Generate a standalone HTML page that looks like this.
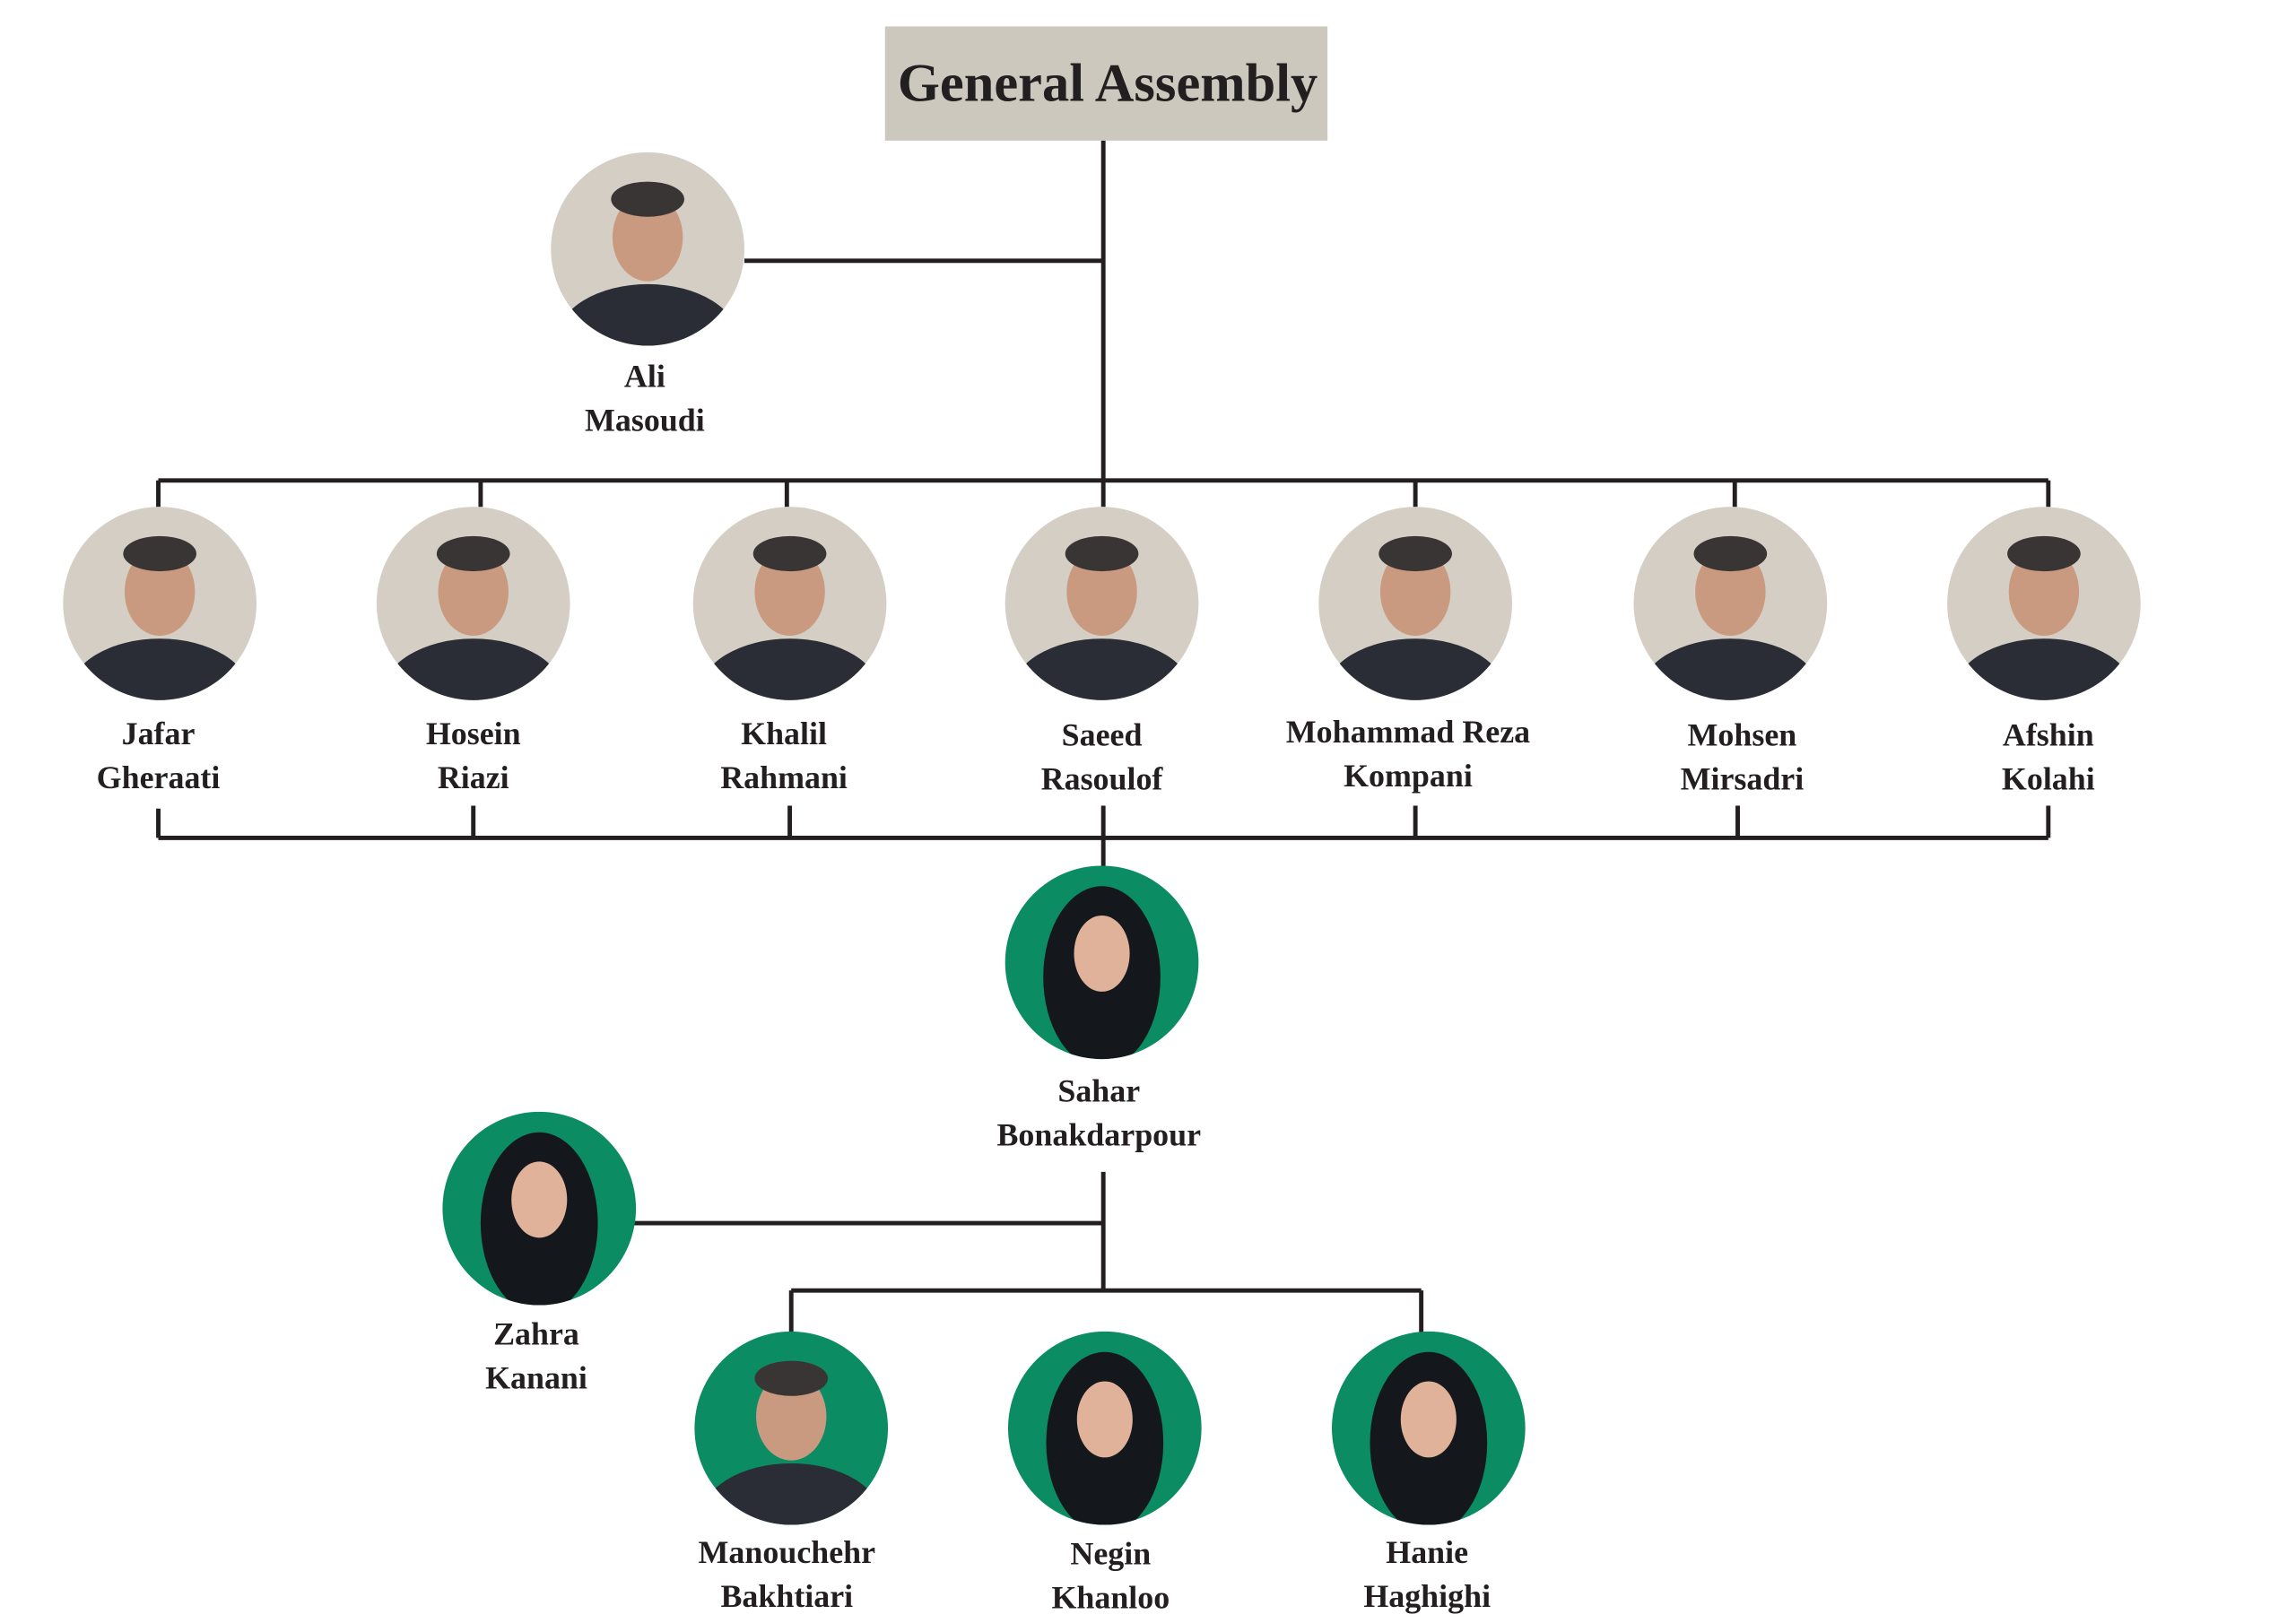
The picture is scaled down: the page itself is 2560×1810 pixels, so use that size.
<!DOCTYPE html>
<html><head><meta charset="utf-8"><style>
html,body{margin:0;padding:0;background:#fff;}
svg{display:block;}
text{font-family:"Liberation Serif",serif;font-weight:bold;fill:#231f20;text-anchor:middle;}
</style></head><body>
<svg width="2560" height="1810" viewBox="0 0 1567 1108" xmlns="http://www.w3.org/2000/svg">
<defs>
<g id="p">
  <ellipse cx="0" cy="62" rx="62" ry="38" fill="#2a2d35"/>
  <ellipse cx="0" cy="-8" rx="24" ry="30" fill="#c99a80"/>
  <ellipse cx="0" cy="-34" rx="25" ry="12" fill="#3a3535"/>
</g>
<g id="f">
  <ellipse cx="0" cy="10" rx="40" ry="62" fill="#14181c"/>
  <ellipse cx="0" cy="-6" rx="19" ry="26" fill="#e0b29a"/>
</g>
<clipPath id="c"><circle cx="0" cy="0" r="66"/></clipPath>
</defs>
<rect x="604" y="18" width="302" height="78" fill="#cdc8be"/>
<text x="756" y="69" font-size="37">General Assembly</text>
<g stroke="#231f20" stroke-width="3" fill="none">
<path d="M753 96V328M508 178H753"/>
<path d="M108 328H1398M108 328V346M328 328V346M537 328V346M753 328V346M966 328V346M1184 328V346M1398 328V346"/>
<path d="M108 572H1398M108 572V552M323 572V550M539 572V550M753 550V592M966 572V550M1186 572V550M1398 572V550"/>
<path d="M753 800V881M432 835H753M540 881H970M540 881V910M970 881V910"/>
</g>
<g transform="translate(442,170)"><circle r="66" fill="#d4cec4"/><g clip-path="url(#c)"><use href="#p"/></g></g>
<g transform="translate(109,412)"><circle r="66" fill="#d4cec4"/><g clip-path="url(#c)"><use href="#p"/></g></g>
<g transform="translate(323,412)"><circle r="66" fill="#d4cec4"/><g clip-path="url(#c)"><use href="#p"/></g></g>
<g transform="translate(539,412)"><circle r="66" fill="#d4cec4"/><g clip-path="url(#c)"><use href="#p"/></g></g>
<g transform="translate(752,412)"><circle r="66" fill="#d4cec4"/><g clip-path="url(#c)"><use href="#p"/></g></g>
<g transform="translate(966,412)"><circle r="66" fill="#d4cec4"/><g clip-path="url(#c)"><use href="#p"/></g></g>
<g transform="translate(1181,412)"><circle r="66" fill="#d4cec4"/><g clip-path="url(#c)"><use href="#p"/></g></g>
<g transform="translate(1395,412)"><circle r="66" fill="#d4cec4"/><g clip-path="url(#c)"><use href="#p"/></g></g>
<g transform="translate(752,657)"><circle r="66" fill="#0b8c62"/><g clip-path="url(#c)"><use href="#f"/></g></g>
<g transform="translate(368,825)"><circle r="66" fill="#0b8c62"/><g clip-path="url(#c)"><use href="#f"/></g></g>
<g transform="translate(540,975)"><circle r="66" fill="#0b8c62"/><g clip-path="url(#c)"><use href="#p"/></g></g>
<g transform="translate(754,975)"><circle r="66" fill="#0b8c62"/><g clip-path="url(#c)"><use href="#f"/></g></g>
<g transform="translate(975,975)"><circle r="66" fill="#0b8c62"/><g clip-path="url(#c)"><use href="#f"/></g></g>
<g font-size="22">
<text x="440" y="264">Ali</text><text x="440" y="294">Masoudi</text>
<text x="108" y="508">Jafar</text><text x="108" y="538">Gheraati</text>
<text x="323" y="508">Hosein</text><text x="323" y="538">Riazi</text>
<text x="535" y="508">Khalil</text><text x="535" y="538">Rahmani</text>
<text x="752" y="509">Saeed</text><text x="752" y="539">Rasoulof</text>
<text x="961" y="507">Mohammad Reza</text><text x="961" y="537">Kompani</text>
<text x="1189" y="509">Mohsen</text><text x="1189" y="539">Mirsadri</text>
<text x="1398" y="509">Afshin</text><text x="1398" y="539">Kolahi</text>
<text x="750" y="752">Sahar</text><text x="750" y="782">Bonakdarpour</text>
<text x="366" y="918">Zahra</text><text x="366" y="948">Kanani</text>
<text x="537" y="1067">Manouchehr</text><text x="537" y="1097">Bakhtiari</text>
<text x="758" y="1068">Negin</text><text x="758" y="1098">Khanloo</text>
<text x="974" y="1067">Hanie</text><text x="974" y="1097">Haghighi</text>
</g>
</svg>
</body></html>
